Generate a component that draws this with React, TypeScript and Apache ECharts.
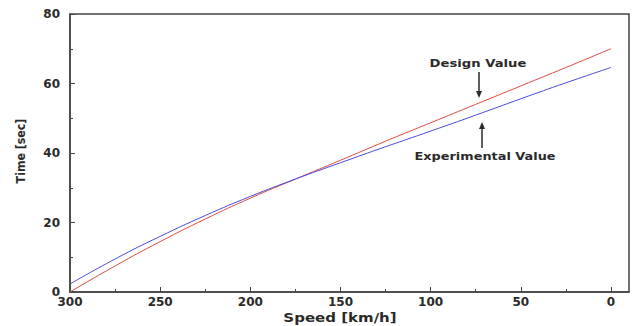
import React, { useEffect, useRef } from "react";
import * as echarts from "echarts";

const speeds = [300, 275, 250, 225, 200, 175, 150, 125, 100, 75, 50, 25, 0];
const designValues = [0, 7.5, 14.5, 21, 27, 32.5, 37.9, 43.4, 48.7, 54, 59.3, 64.6, 70];
const experimentalValues = [2.3, 9.5, 16, 22, 27.5, 32.5, 37.2, 41.8, 46.3, 50.9, 55.6, 60.2, 64.6];
const xMajorTicks = [300, 250, 200, 150, 100, 50, 0];
const xMinorTicks = [275, 225, 175, 125, 75, 25];

const FONT = "'DejaVu Sans', Verdana, sans-serif";
const INK = "#2a2a2a";

export default function App() {
  const ref = useRef<HTMLDivElement>(null);
  useEffect(() => {
    if (!ref.current) return;
    const chart = echarts.init(ref.current, undefined, { renderer: "svg" });
    const design = speeds.map((s, i) => [s, designValues[i]]);
    const experimental = speeds.map((s, i) => [s, experimentalValues[i]]);
    const textStyle = (text: string, size: number) => ({
      text,
      fontFamily: FONT,
      fontWeight: "bold",
      fontSize: size,
      fill: INK,
      align: "center",
      verticalAlign: "middle",
    });
    chart.setOption({
      animation: false,
      backgroundColor: "#ffffff",
      grid: {
        left: 70,
        right: 5,
        top: 14,
        bottom: 34,
        show: true,
        borderColor: "#444",
        borderWidth: 1.5,
        backgroundColor: "transparent",
      },
      xAxis: [
        {
          type: "value",
          min: -10,
          max: 300,
          inverse: true,
          position: "bottom",
          axisLine: { show: true, onZero: false, lineStyle: { color: "#444", width: 1.5 } },
          axisTick: { show: true, inside: true, length: 5, customValues: xMajorTicks, lineStyle: { color: "#444" } },
          axisLabel: { customValues: xMajorTicks, fontFamily: FONT, fontWeight: "bold", fontSize: 12, color: INK, margin: 4 },
          splitLine: { show: false },
        },
        {
          type: "value",
          min: -10,
          max: 300,
          inverse: true,
          position: "bottom",
          axisLine: { show: false, onZero: false },
          axisTick: { show: true, inside: true, length: 3, customValues: xMinorTicks, lineStyle: { color: "#444" } },
          axisLabel: { show: false },
          splitLine: { show: false },
        },
      ],
      yAxis: {
        type: "value",
        min: 0,
        max: 80,
        interval: 20,
        position: "left",
        axisLine: { show: true, onZero: false, lineStyle: { color: "#444", width: 1.5 } },
        axisTick: { show: true, inside: true, length: 5, lineStyle: { color: "#444" } },
        minorTick: { show: true, splitNumber: 2, length: 3, lineStyle: { color: "#444" } },
        axisLabel: { fontFamily: FONT, fontWeight: "bold", fontSize: 12, color: INK, margin: 10 },
        splitLine: { show: false },
        minorSplitLine: { show: false },
      },
      series: [
        {
          name: "Design Value",
          type: "line",
          smooth: true,
          showSymbol: false,
          data: design,
          lineStyle: { color: "#e04a40", width: 1 },
          itemStyle: { color: "#e04a40" },
        },
        {
          name: "Experimental Value",
          type: "line",
          smooth: true,
          showSymbol: false,
          data: experimental,
          lineStyle: { color: "#4a4ae0", width: 1 },
          itemStyle: { color: "#4a4ae0" },
        },
      ],
      graphic: [
        { type: "text", x: 340, y: 318, scaleX: 1.25, style: textStyle("Speed [km/h]", 12) },
        { type: "text", x: 21, y: 151, rotation: Math.PI / 2, scaleX: 0.85, style: textStyle("Time [sec]", 13) },
        { type: "text", x: 478, y: 63, scaleX: 1.2, style: textStyle("Design Value", 11) },
        { type: "line", shape: { x1: 479, y1: 72, x2: 479, y2: 92 }, style: { stroke: INK, lineWidth: 1.5 } },
        { type: "polygon", shape: { points: [[476, 91], [482, 91], [479, 98]] }, style: { fill: INK } },
        { type: "text", x: 485, y: 156, scaleX: 1.17, style: textStyle("Experimental Value", 11) },
        { type: "line", shape: { x1: 482, y1: 128, x2: 482, y2: 148 }, style: { stroke: INK, lineWidth: 1.5 } },
        { type: "polygon", shape: { points: [[479, 129], [485, 129], [482, 122]] }, style: { fill: INK } },
      ],
    });
    return () => chart.dispose();
  }, []);
  return <div ref={ref} style={{ width: 634, height: 326, position: "absolute", left: 0, top: 0 }} />;
}
